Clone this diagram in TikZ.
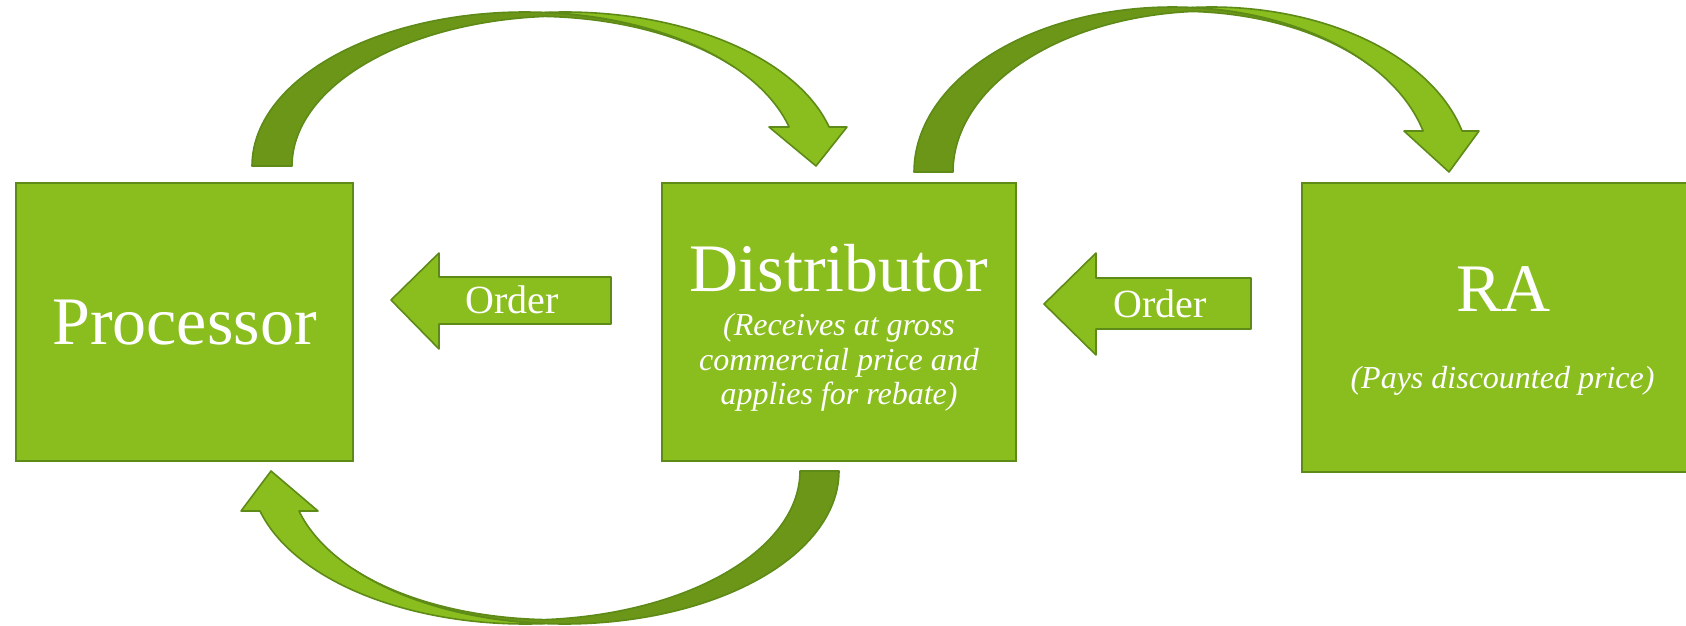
\documentclass[tikz,border=0pt]{standalone}
\usepackage{fontspec}
\setmainfont{Liberation Serif}
\definecolor{gfill}{HTML}{8ABE1E}
\definecolor{gdark}{HTML}{6B9618}
\definecolor{gline}{HTML}{5E8A17}
\begin{document}
\begin{tikzpicture}[x=0.5pt,y=-0.5pt,
  box/.style={draw=gline, line width=1pt, fill=gfill, inner sep=0pt},
  lightpart/.style={fill=gfill, draw=gline, line width=0.8pt, line join=round},
  darkpart/.style={fill=gdark, draw=gline, line width=0.8pt, line join=round},
  bigtxt/.style={text=white, font=\fontsize{34}{40}\selectfont, anchor=base, inner sep=0pt},
  smalltxt/.style={text=white, font=\fontsize{16}{17.5}\selectfont\itshape, anchor=base, inner sep=0pt},
  ordertxt/.style={text=white, font=\fontsize{20}{24}\selectfont, anchor=base, inner sep=0pt}]
\useasboundingbox (0,0) rectangle (1686,626);

% boxes
\node[box, minimum width=168.5pt, minimum height=139pt] (proc) at (184.5,322) {};
\node[box, minimum width=177pt, minimum height=139pt] (dist) at (839,322) {};
\node[box, minimum width=201.5pt, minimum height=144.5pt] (ra) at (1503.5,327.5) {};

% box texts
\node[bigtxt] (proctxt) at (184.5,344) {Processor};
\node[bigtxt] (disttxt) at (839,291) {Distributor};
\node[smalltxt] (dista) at (839,335) {(Receives at gross};
\node[smalltxt] (distb) at (839,370) {commercial price and};
\node[smalltxt] (distc) at (839,404) {applies for rebate)};
\node[bigtxt] (ratxt) at (1503.5,311) {RA};
\node[smalltxt] (rasub) at (1502.5,388) {(Pays discounted price)};

% straight order arrows
\draw[lightpart] (391,300) -- (439,253) -- (439,277) -- (611,277) -- (611,324) -- (439,324) -- (439,349) -- cycle;
\node[ordertxt] (order1) at (512,313) {Order};
\draw[lightpart] (1044,304) -- (1096,253) -- (1096,278) -- (1251,278) -- (1251,329) -- (1096,329) -- (1096,355) -- cycle;
\node[ordertxt] (order2) at (1160,317) {Order};

% top-left curved arrow (Processor -> Distributor)
\draw[darkpart] plot[domain=180:40,samples=80] ({525+273*cos(\x)},{166-154*sin(\x)})
  -- plot[domain=40:85.8,samples=40] ({525+273*cos(\x)},{166-(154-4*(\x-40)/45.8)*sin(\x)})
  -- plot[domain=94.2:180,samples=60] ({565+273*cos(\x)},{166-150*sin(\x)}) -- cycle;
\draw[lightpart] plot[domain=94.2:14.67,samples=60] ({565+273*cos(\x)},{166-154*sin(\x)})
  -- (847,127) -- (816,166) -- (769,127)
  -- plot[domain=14.67:85.8,samples=60] ({525+273*cos(\x)},{166-154*sin(\x)}) -- cycle;

% top-right curved arrow (Distributor -> RA)
\draw[darkpart] plot[domain=180:40,samples=80] ({1172.6+258.6*cos(\x)},{172-165*sin(\x)})
  -- plot[domain=40:85.68,samples=40] ({1172.6+258.6*cos(\x)},{172-(165-4*(\x-40)/45.68)*sin(\x)})
  -- plot[domain=94.32:180,samples=60] ({1211.6+258.6*cos(\x)},{172-161*sin(\x)}) -- cycle;
\draw[lightpart] plot[domain=94.32:14.39,samples=60] ({1211.6+258.6*cos(\x)},{172-165*sin(\x)})
  -- (1479,131) -- (1449,172) -- (1404,131)
  -- plot[domain=14.39:85.68,samples=60] ({1172.6+258.6*cos(\x)},{172-165*sin(\x)}) -- cycle;

% bottom curved arrow (Distributor -> Processor)
\draw[darkpart] plot[domain=0:140,samples=80] ({564.2+274.8*cos(\x)},{471+153*sin(\x)})
  -- plot[domain=140:94.07,samples=40] ({564.2+274.8*cos(\x)},{471+(153-4*(140-\x)/45.93)*sin(\x)})
  -- plot[domain=85.93:0,samples=60] ({525.2+274.8*cos(\x)},{471+149*sin(\x)}) -- cycle;
\draw[lightpart] plot[domain=85.93:164.84,samples=60] ({525.2+274.8*cos(\x)},{471+153*sin(\x)})
  -- (241,511) -- (271,471) -- (318,511)
  -- plot[domain=164.84:94.07,samples=60] ({564.2+274.8*cos(\x)},{471+153*sin(\x)}) -- cycle;
\end{tikzpicture}
\end{document}
